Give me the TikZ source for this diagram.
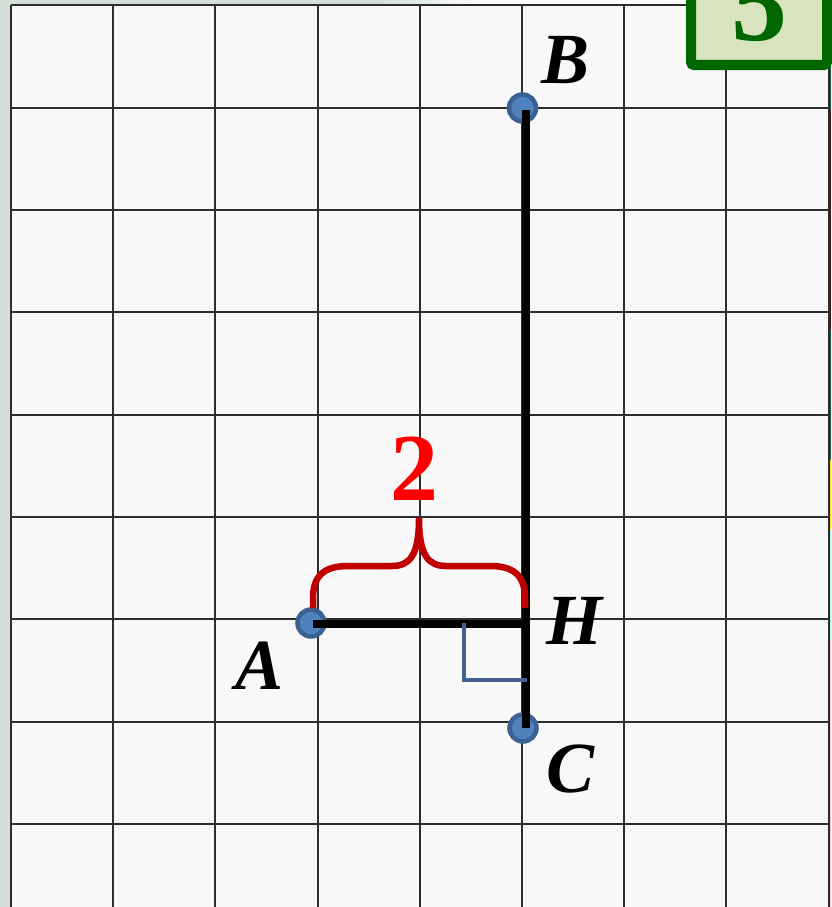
\documentclass[tikz,border=0pt]{standalone}
\usepackage{fontspec}
\setmainfont{Liberation Serif}
\definecolor{bgtint}{HTML}{D2E0D8}
\definecolor{gridgray}{HTML}{2E2E2E}
\definecolor{cellgray}{HTML}{F8F8F8}
\definecolor{dotfill}{HTML}{4F81BD}
\definecolor{dotedge}{HTML}{3A6192}
\definecolor{anglecol}{HTML}{3E6391}
\definecolor{bracecol}{HTML}{C00000}
\definecolor{boxgreen}{HTML}{006600}
\definecolor{boxfill}{HTML}{D7E4BD}
\definecolor{stripA}{HTML}{1B5A40}
\definecolor{stripB}{HTML}{3A1A10}
\definecolor{stripC}{HTML}{F2DC30}
\definecolor{stripD}{HTML}{A8ECE4}
\definecolor{stripE}{HTML}{F4C0DC}
\begin{document}
\begin{tikzpicture}[x=1pt,y=-1pt,
  gridline/.style={line width=2pt,draw=gridgray},
  seg/.style={line width=8pt,draw=black},
  dot/.style={circle,fill=dotfill,draw=dotedge,line width=4.5pt,minimum size=27pt,inner sep=0pt},
  lbl/.style={font=\fontsize{72}{72}\selectfont\bfseries\itshape,inner sep=0pt,anchor=base},
  rightangle/.style={line width=4.5pt,draw=anglecol},
  bracestyle/.style={line width=6.5pt,draw=bracecol},
  ]
\useasboundingbox (0,0) rectangle (831,907);
% background
\fill[bgtint] (0,0) rectangle (831,907);
\shade[left color=bgtint,right color=white] (380,0) rectangle (480,6);
\fill[white] (480,0) rectangle (831,6);
% right edge strip
\fill[stripA] (828.6,0) rectangle (831,110);
\fill[stripB] (828.6,110) rectangle (831,330);
\fill[stripA] (828.6,330) rectangle (831,460);
\fill[stripC] (828.6,460) rectangle (831,530);
\fill[stripD] (828.6,530) rectangle (831,640);
\fill[stripE] (828.6,640) rectangle (831,907);
% grid
\fill[cellgray] (11,5.5) rectangle (828.6,907);
\foreach \i in {0,...,8}
  \draw[gridline] ({11+102.2*\i},5.5) -- ({11+102.2*\i},907);
\foreach \j in {0,...,8}
  \draw[gridline] (11,{5.5+102.3*\j}) -- (828.6,{5.5+102.3*\j});
% number box
\fill[boxfill] (691,-30) rectangle (827,65);
\node[font=\fontsize{112}{112}\selectfont\bfseries,text=boxgreen,anchor=base,inner sep=0pt] (five) at (759,41) {5};
\draw[line width=10pt,draw=boxgreen,rounded corners=3pt] (691,-30) rectangle (827,65);
% points
\node[dot] (A) at (311,623) {};
\node[dot] (B) at (522.5,108) {};
\node[dot] (C) at (523,728) {};
\coordinate (H) at (525.5,624);
\coordinate (Ae) at (313,624);
\coordinate (Bt) at (525.5,110);
\coordinate (Cb) at (525.5,728);
% segments
\draw[seg] (Bt) -- (Cb);
\draw[seg] (Ae) -- (H);
% right angle mark
\coordinate (R1) at (464,623);
\coordinate (R2) at (464,680);
\coordinate (R3) at (527,680);
\draw[rightangle] (R1) -- (R2) -- (R3);
% brace
\coordinate (BrL) at (313,608);
\coordinate (BrR) at (525,608);
\coordinate (BrT) at (419,518);
\draw[bracestyle] (BrL) -- (313,598) .. controls (313,575) and (325,566) .. (348,566) -- (392,566)
  .. controls (410,566) and (419,555) .. (BrT)
  .. controls (419,555) and (428,566) .. (446,566) -- (490,566)
  .. controls (513,566) and (525,575) .. (525,598) -- (BrR);
\node[font=\fontsize{96}{96}\selectfont\bfseries,text=red,anchor=base,inner sep=0pt] (two) at (414,500) {2};
% labels
\node[lbl] (lB) at (566,83) {B};
\node[lbl] (lH) at (574,644) {H};
\node[lbl] (lA) at (260,689) {A};
\node[lbl] (lC) at (571,792) {C};
\end{tikzpicture}
\end{document}
